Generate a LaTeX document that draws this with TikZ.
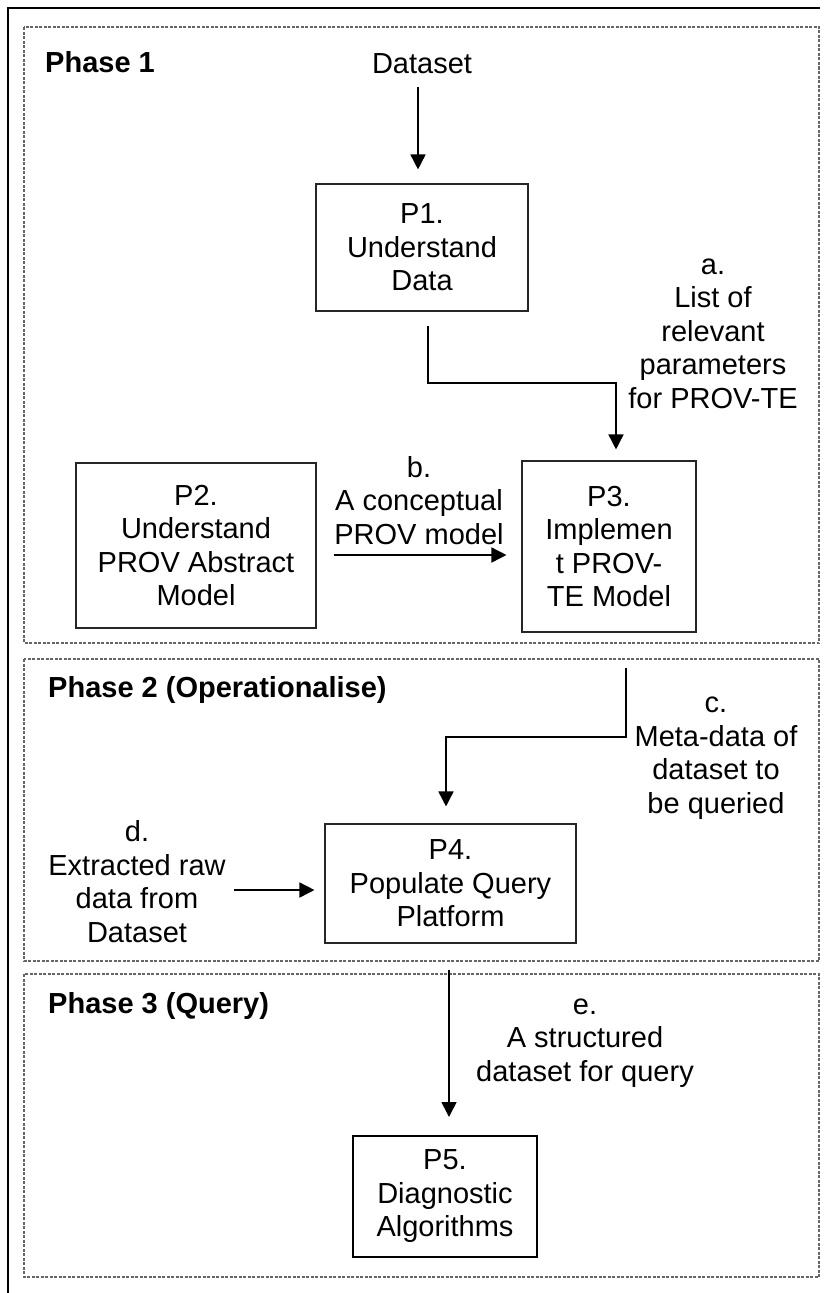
\documentclass[tikz,border=0pt]{standalone}
\usepackage{fontspec}
\setmainfont{Liberation Sans}
\usetikzlibrary{arrows.meta}
\begin{document}
\begin{tikzpicture}[x=1pt,y=-1pt,
  every node/.style={font=\fontsize{29}{33.5}\selectfont, align=center, inner sep=0pt},
  stepbox/.style={draw=black!85, line width=1.1pt},
  phasebox/.style={draw=black!60, line width=1.1pt, dash pattern=on 3pt off 1.5pt},
  lbl/.style={anchor=base},
  phaselbl/.style={anchor=base west, font=\fontsize{29}{33.5}\selectfont\bfseries},
  arr/.style={line width=1.6pt, -{Triangle[length=15pt,width=15pt]}},
  frame/.style={line width=1.5pt, black}
]
% page extent
\useasboundingbox (0,0) rectangle (826,1293);

% outer frame (top and left rules)
\draw[frame] (8,1293) -- (8,8) -- (820,8);

% phase panels
\draw[phasebox] (24,27) rectangle (819,643);
\draw[phasebox] (24,659) rectangle (819,961);
\draw[phasebox] (24,974) rectangle (819,1277);

\node[phaselbl] (ph1) at (45,72) {Phase 1};
\node[phaselbl] (ph2) at (48,697) {Phase 2 (Operationalise)};
\node[phaselbl] (ph3) at (48,1013) {Phase 3 (Query)};

% process boxes
\node[stepbox, minimum width=212pt, minimum height=127pt] (P1) at (422,247.5) {P1.\\Understand\\Data};
\node[stepbox, minimum width=240pt, minimum height=165pt] (P2) at (196,545.5) {P2.\\Understand\\PROV Abstract\\Model};
\node[stepbox, minimum width=174pt, minimum height=171pt] (P3) at (609,546.5) {P3.\\Implemen\\t PROV-\\TE Model};
\node[stepbox, minimum width=251pt, minimum height=119pt] (P4) at (450.5,883.5) {P4.\\Populate Query\\Platform};
\node[draw=black, line width=2pt, minimum width=184pt, minimum height=121pt] (P5) at (445,1196.5) {P5.\\Diagnostic\\Algorithms};

% data-flow labels (anchored on the baseline of their last line)
\node[lbl] (ds) at (422,73) {Dataset};
\node[lbl] (la) at (713,408) {a.\\List of\\relevant\\parameters\\for PROV-TE};
\node[lbl] (lb) at (419,544) {b.\\A conceptual\\PROV model};
\node[lbl] (lc) at (716,813) {c.\\Meta-data of\\dataset to\\be queried};
\node[lbl] (ld) at (137,942) {d.\\Extracted raw\\data from\\Dataset};
\node[lbl] (le) at (585,1081) {e.\\A structured\\dataset for query};

% connectors
\coordinate (a1) at (428,383);
\coordinate (c1) at (626,737);
\draw[arr, shorten <=14pt, shorten >=14pt] (ds.south -| P1.north) ++(-4,0) -- ([xshift=-4pt]P1.north);
\draw[arr, shorten >=11pt] ([xshift=6pt,yshift=-14pt]P1.south) -- (a1) -| ([xshift=7pt]P3.north);
\draw[arr, shorten >=15pt] (P2.east |- 0,555) ++(17,0) -- (P3.west |- 0,555);
\draw[arr, shorten >=17pt] ([xshift=17pt,yshift=-35pt]P3.south) -- (c1) -| ([xshift=-4.5pt]P4.north);
\draw[arr, shorten >=10pt] (ld.east |- 0,890) ++(8,0) -- (P4.west |- 0,890);
\draw[arr, shorten >=18pt] ([xshift=-1.5pt,yshift=-26pt]P4.south) -- ([xshift=4pt]P5.north);
\end{tikzpicture}
\end{document}
